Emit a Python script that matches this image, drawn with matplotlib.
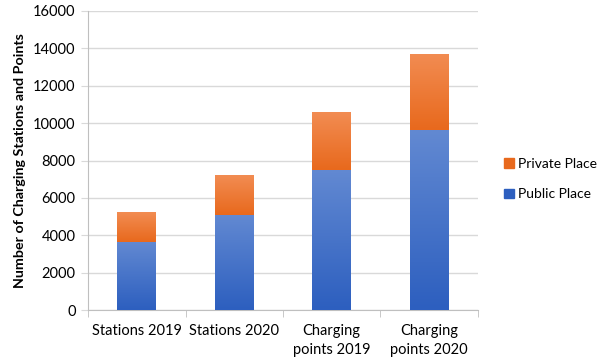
import numpy as np
import matplotlib.pyplot as plt
from matplotlib.patches import Patch

categories = ['Stations 2019', 'Stations 2020', 'Charging\npoints 2019', 'Charging\npoints 2020']
public_place = [3650, 5100, 7500, 9630]
private_place = [1600, 2100, 3100, 4070]

yticks = [0, 2000, 4000, 6000, 8000, 10000, 12000, 14000, 16000]

plt.rcParams['font.family'] = ['Lato', 'DejaVu Sans']

blue_top, blue_bottom = '#6289d2', '#2d5fbf'
orange_top, orange_bottom = '#f28c52', '#e8691d'


def gradient_fill(ax, bar, c_top, c_bottom):
    # vertical gradient clipped to the bar rectangle
    x0, y0 = bar.get_x(), bar.get_y()
    w, h = bar.get_width(), bar.get_height()
    top = np.array(plt.matplotlib.colors.to_rgb(c_top))
    bot = np.array(plt.matplotlib.colors.to_rgb(c_bottom))
    t = np.linspace(0, 1, 64)[:, None]
    img = (bot * (1 - t) + top * t)[:, None, :]
    im = ax.imshow(img, extent=[x0, x0 + w, y0, y0 + h], origin='lower',
                   aspect='auto', zorder=3, interpolation='bicubic')
    im.set_clip_path(bar)


fig = plt.figure(figsize=(6.08, 3.64), dpi=100)
ax = fig.add_axes([0.145, 0.148, 0.641, 0.822])

x = np.arange(len(categories))
b1 = ax.bar(x, public_place, width=0.4, color=blue_bottom, zorder=2)
b2 = ax.bar(x, private_place, width=0.4, bottom=public_place, color=orange_bottom, zorder=2)
for bar in b1:
    gradient_fill(ax, bar, blue_top, blue_bottom)
for bar in b2:
    gradient_fill(ax, bar, orange_top, orange_bottom)

ax.set_xlim(-0.5, len(categories) - 0.5)
ax.set_ylim(0, 16000)
ax.set_yticks(yticks)
ax.set_yticklabels([str(v) for v in yticks], fontsize=10.5)
ax.yaxis.grid(True, color='#d9d9d9', linewidth=1)
ax.set_axisbelow(True)

ax.set_xticks(x)
ax.set_xticklabels(categories, fontsize=10.5, linespacing=1.45)
ax.set_xticks(np.arange(-0.5, len(categories)), minor=True)
ax.tick_params(axis='x', which='major', length=0, pad=10)
ax.tick_params(axis='x', which='minor', length=5, color='#bfbfbf', direction='out')
ax.tick_params(axis='y', length=5, color='#d9d9d9', pad=4)

for s in ['top', 'right']:
    ax.spines[s].set_visible(False)
ax.spines['left'].set_color('#bfbfbf')
ax.spines['bottom'].set_color('#bfbfbf')

ax.set_ylabel('Number of Charging Stations and Points', fontsize=10.3,
              fontweight='bold', labelpad=5)

handles = [Patch(color=orange_bottom, label='Private Place'),
           Patch(color=blue_bottom, label='Public Place')]
fig.legend(handles=handles, loc='center left', bbox_to_anchor=(0.815, 0.508),
           frameon=False, fontsize=10, handlelength=0.7, handleheight=0.7,
           handletextpad=0.3, labelspacing=1.35, borderaxespad=0.2)

fig.savefig('out.png', dpi=100)
